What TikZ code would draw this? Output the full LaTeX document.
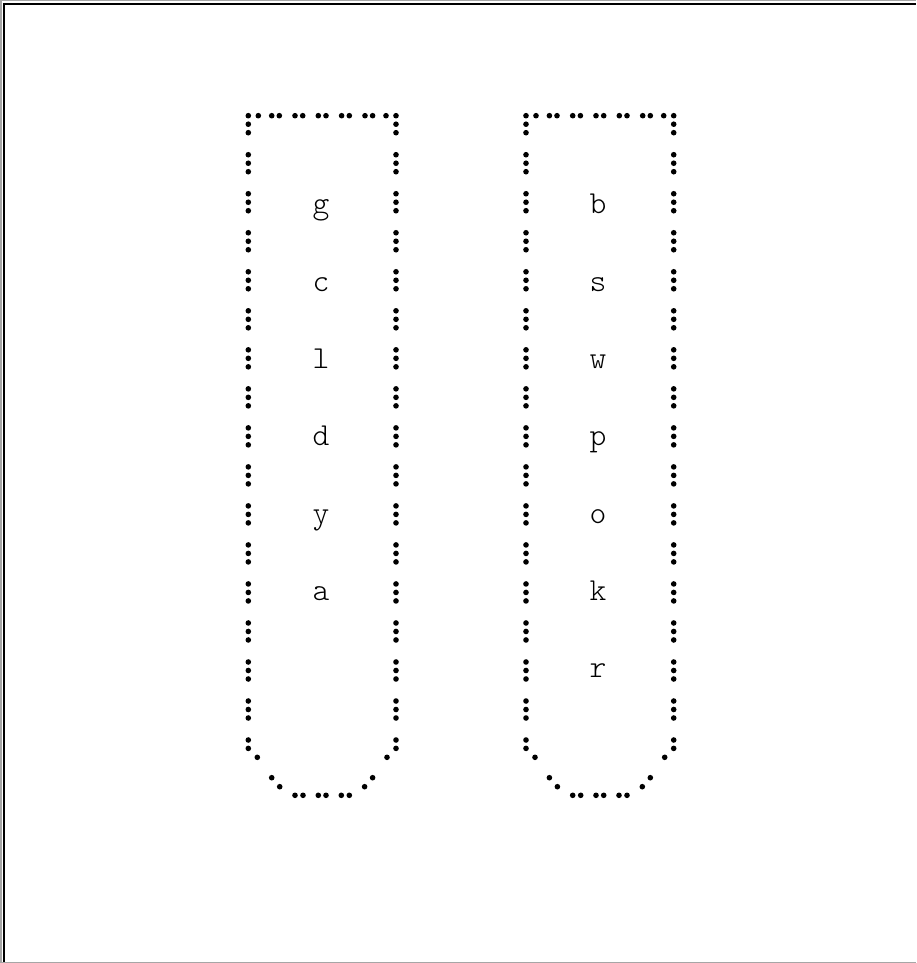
\documentclass[tikz,border=0pt]{standalone}
\usepackage{tikz}

\begin{document}
\begin{tikzpicture}[
  x=1pt, y=-1pt,
  dot/.style={fill=black},
  letter/.style={font=\fontsize{32}{38}\selectfont\ttfamily\fontseries{l}\selectfont, anchor=base, inner sep=0pt},
  frameEdge/.style={draw=black, line width=2pt},
  frameShade/.style={draw=black!35, line width=1.5pt}
]
\useasboundingbox (0,0) rectangle (916,963);

% outer frame
\draw[frameShade] (0.75,963) -- (0.75,0.75) -- (916,0.75);
\draw[frameShade] (0,962.25) -- (916,962.25);
\draw[frameEdge] (3.7,962) -- (3.7,3.7) -- (916,3.7);

% two dotted tubes
\foreach \dx in {248.3, 526} {
  % side walls
  \foreach \k in {0,...,15}
    \foreach \s in {0,8.5,17} {
      \fill[dot] (\dx, {115.7+39.02*\k+\s}) circle[radius=2.8];
      \fill[dot] (\dx+147.7, {115.7+39.02*\k+\s}) circle[radius=2.8];
    }
  \foreach \s in {0,8.4} {
    \fill[dot] (\dx, 740+\s) circle[radius=2.8];
    \fill[dot] (\dx+147.7, 740+\s) circle[radius=2.8];
  }
  % rim
  \foreach \a in {10, 23.4, 31, 46.7, 54.4, 70} {
    \fill[dot] (\dx+\a, 115.7) circle[radius=2.8];
    \fill[dot] (\dx+147.7-\a, 115.7) circle[radius=2.8];
  }
  % rounded bottom
  \foreach \a/\yb in {9/757.3, 23.4/777.7, 31.4/786.7, 46.7/795.3, 54.7/795.3, 70/795.3} {
    \fill[dot] (\dx+\a, \yb) circle[radius=2.8];
    \fill[dot] (\dx+147.7-\a, \yb) circle[radius=2.8];
  }
}

% contents
\foreach \ch [count=\i] in {g,c,l,d,y,a}
  \node[letter] (left\ch) at (321, {213.8+77.3*(\i-1)}) {\ch};
\foreach \ch [count=\i] in {b,s,w,p,o,k,r}
  \node[letter] (right\ch) at (598, {213.8+77.3*(\i-1)}) {\ch};
\end{tikzpicture}
\end{document}
